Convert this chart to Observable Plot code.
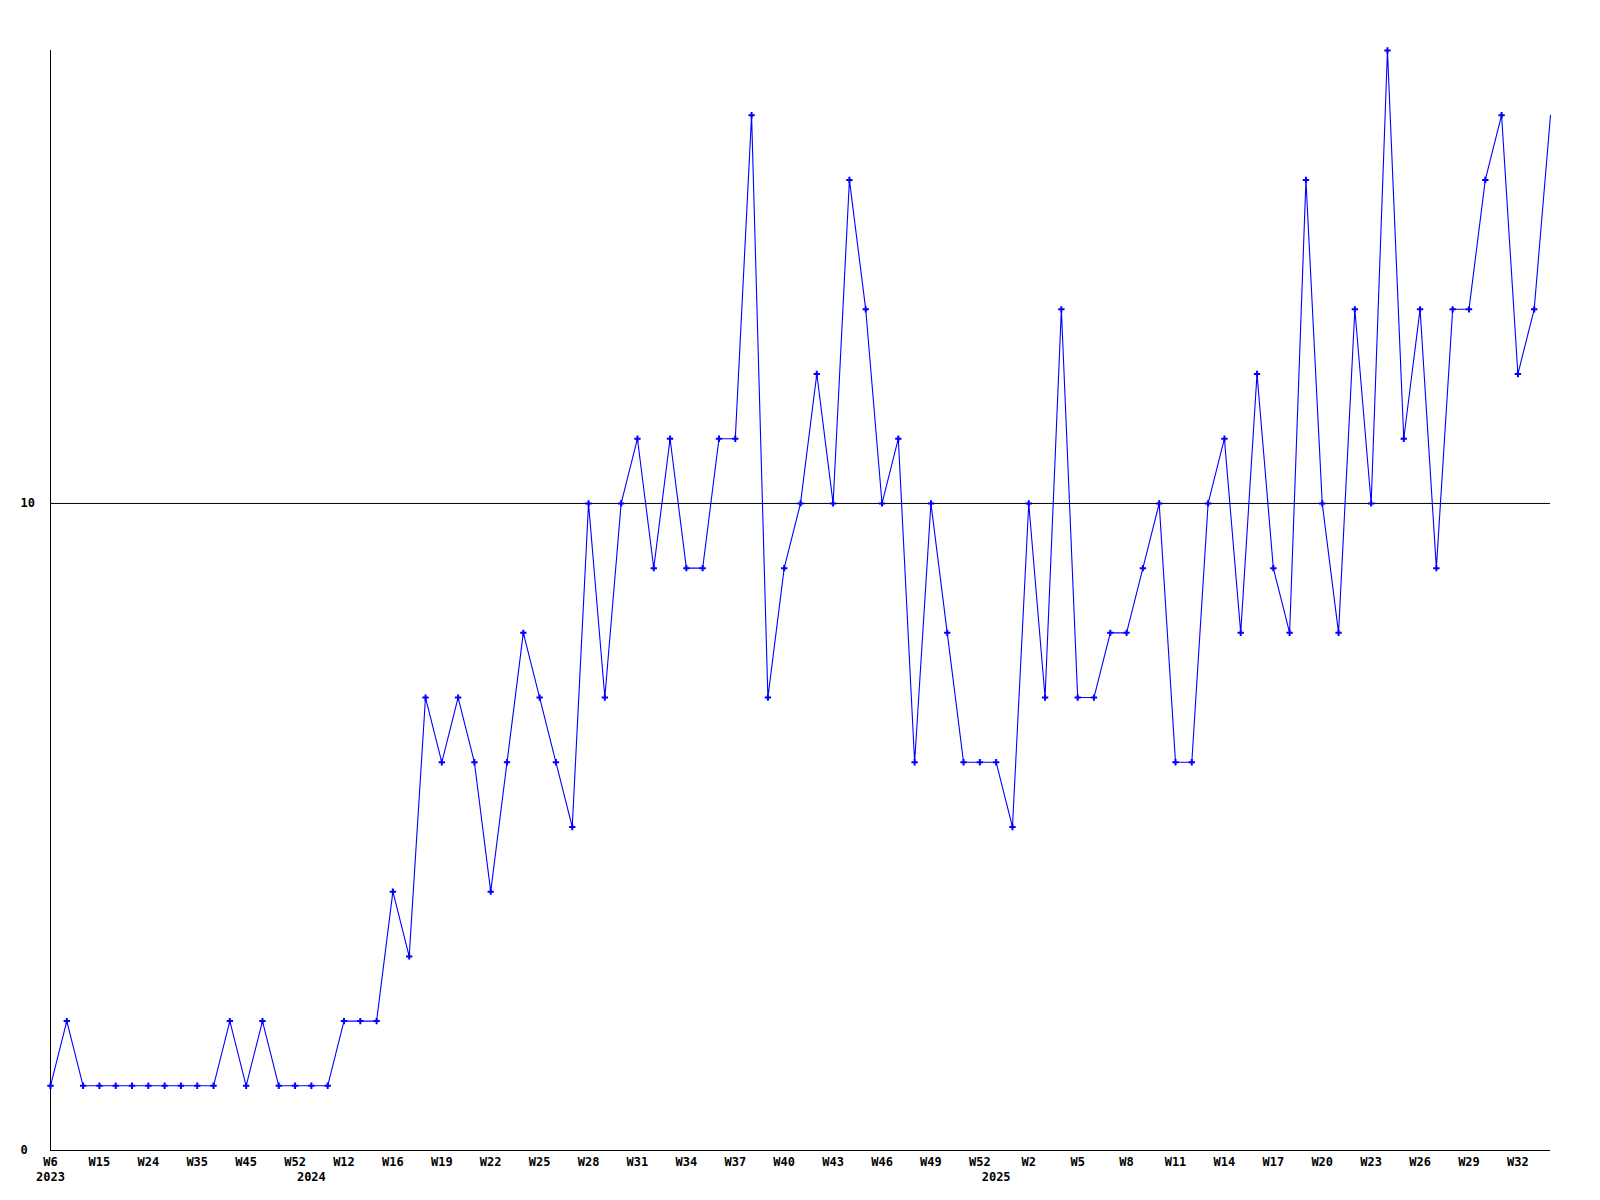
<!DOCTYPE html>
<html>
<head>
<meta charset="utf-8">
<script src="https://cdn.jsdelivr.net/npm/d3@7"></script>
<script src="https://cdn.jsdelivr.net/npm/@observablehq/plot@0.6"></script>
<style>
  html, body { margin: 0; padding: 0; background: #ffffff; }
  #chart svg { display: block; }
</style>
</head>
<body>
<div id="chart"></div>
<script>
const weeks = [
  "W6","W9","W12","W15","W18","W21","W24","W28","W31","W35","W38","W41","W45","W47","W50","W52",
  "W4","W8","W12","W13","W14","W16","W17","W18","W19","W20","W21","W22","W23","W24","W25","W26",
  "W27","W28","W29","W30","W31","W32","W33","W34","W35","W36","W37","W38","W39","W40","W41","W42",
  "W43","W44","W45","W46","W47","W48","W49","W50","W51","W52",
  "W0","W1","W2","W3","W4","W5","W6","W7","W8","W9","W10","W11","W12","W13","W14","W15","W16",
  "W17","W18","W19","W20","W21","W22","W23","W24","W25","W26","W27","W28","W29","W30","W31","W32",
  "W33","W34"
];
const years = [
  2023,2023,2023,2023,2023,2023,2023,2023,2023,2023,2023,2023,2023,2023,2023,2023,
  2024,2024,2024,2024,2024,2024,2024,2024,2024,2024,2024,2024,2024,2024,2024,2024,
  2024,2024,2024,2024,2024,2024,2024,2024,2024,2024,2024,2024,2024,2024,2024,2024,
  2024,2024,2024,2024,2024,2024,2024,2024,2024,2024,
  2025,2025,2025,2025,2025,2025,2025,2025,2025,2025,2025,2025,2025,2025,2025,2025,2025,
  2025,2025,2025,2025,2025,2025,2025,2025,2025,2025,2025,2025,2025,2025,2025,2025,
  2025,2025
];
const values = [
  1,2,1,1,1,1,1,1,1,1,
  1,2,1,2,1,1,1,1,2,2,
  2,4,3,7,6,7,6,4,6,8,
  7,6,5,10,7,10,11,9,11,9,
  9,11,11,16,7,9,10,12,10,15,
  13,10,11,6,10,8,6,6,6,5,
  10,7,13,7,7,8,8,9,10,6,
  6,10,11,8,12,9,8,15,10,8,
  13,10,17,11,13,9,13,13,15,16,
  12,13,16
];
const yTicks = [0, 10];
const referenceLine = [10];

const keys = weeks.map((w, i) => years[i] + "-" + w);
const data = keys.map((k, i) => ({key: k, week: weeks[i], year: years[i], value: values[i]}));
const weekTickKeys = keys.filter((k, i) => i % 3 === 0);
const yearStartKeys = keys.filter((k, i) => i === 0 || years[i] !== years[i - 1]);
const keyIndex = new Map(keys.map((k, i) => [k, i]));

const chart = Plot.plot({
  width: 1600,
  height: 1200,
  marginLeft: 50,
  marginRight: 50,
  marginTop: 50,
  marginBottom: 50,
  style: {fontFamily: "'DejaVu Sans Mono', monospace", fontSize: "12px", fontWeight: "bold", color: "black", background: "white"},
  x: {type: "point", domain: keys, padding: 0, round: false, axis: null, label: null},
  y: {domain: [0, 17], axis: null, label: null},
  marks: [
    Plot.ruleY(referenceLine, {stroke: "black", strokeWidth: 1}),
    Plot.ruleY([0], {stroke: "black", strokeWidth: 1}),
    Plot.ruleX([keys[0]], {stroke: "black", strokeWidth: 1}),
    Plot.axisX({ticks: weekTickKeys, tickFormat: k => weeks[keyIndex.get(k)], tickSize: 0, tickPadding: 7, fontSize: 12, fill: "black", label: null}),
    Plot.axisX({ticks: yearStartKeys, tickFormat: k => String(years[keyIndex.get(k)]), tickSize: 0, tickPadding: 22, fontSize: 12, fill: "black", label: null}),
    Plot.axisY({ticks: yTicks, tickFormat: d => String(d), tickSize: 0, tickPadding: 0, textAnchor: "start", dx: -30, fontSize: 12, fill: "black", label: null}),
    Plot.line(data, {x: "key", y: "value", stroke: "#0000ff", strokeWidth: 1.1}),
    Plot.dot(data.slice(0, -1), {x: "key", y: "value", symbol: "plus", stroke: "#0000ff", strokeWidth: 2, r: 2.2})
  ]
});
document.getElementById("chart").appendChild(chart);
</script>
</body>
</html>
